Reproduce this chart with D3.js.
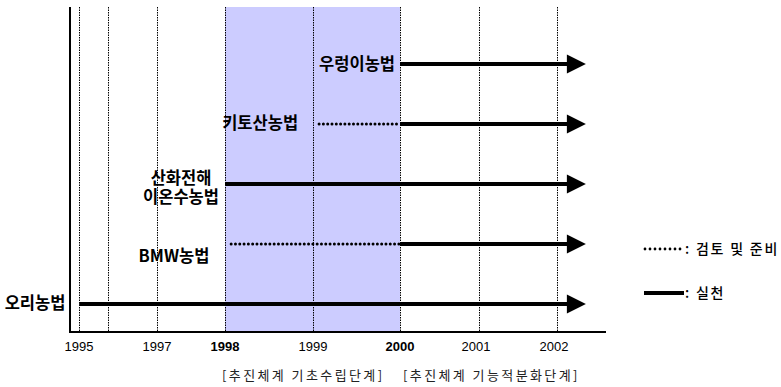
<!DOCTYPE html>
<html><head><meta charset="utf-8">
<script src="https://cdn.jsdelivr.net/npm/d3@7"></script>
<style>
body{margin:0;background:#fff;}
svg{display:block;}
text{font-family:"Noto Sans CJK KR","Noto Sans",sans-serif;}
.yr{font-family:"Liberation Sans",Arial,sans-serif;font-size:13px;}
</style></head><body>
<svg id="c" width="781" height="387"></svg>
<script>
// ---- data ----
const gridYears = [1995, 1996, 1997, 1998, 1999, 2000, 2001, 2002];
const tickLabels = ["1995", "1997", "1998", "1999", "2000", "2001", "2002"];
const tickYears = [1995, 1997, 1998, 1999, 2000, 2001, 2002];
const boldTicks = ["1998", "2000"];
const phases = ["[추진체계 기초수립단계]", "[추진체계 기능적분화단계]"];
const phaseStart = [1998, 2000];
const shadeRange = [1998, 2000];
const methods = ["우렁이농법", "키토산농법", "산화전해|이온수농법", "BMW농법", "오리농법"];
const reviewStart = [null, 1999.07, null, 1998.07, null];
const practiceStart = [2000, 2000, 1998, 2000, 1995.01];
const arrowEnd = 2002.37;
const legendLabels = [": 검토 및 준비", ": 실천"];

// ---- layout ----
const svg = d3.select("#c");
const x = d3.scaleLinear().domain(gridYears).range([79, 108, 157, 225, 313, 400, 479, 557]);
const y = d3.scalePoint().domain(methods).range([64, 304]);
const plotTop = 7, plotBottom = 332, axisLeft = 70, axisRight = 606;

// shade
svg.append("rect").attr("x", x(shadeRange[0])).attr("y", plotTop)
  .attr("width", x(shadeRange[1]) - x(shadeRange[0])).attr("height", plotBottom - plotTop)
  .attr("fill", "#ccccff");

// gridlines
svg.selectAll("line.grid").data(gridYears).join("line").attr("class", "grid")
  .attr("x1", d => x(d) + 0.5).attr("x2", d => x(d) + 0.5)
  .attr("y1", plotTop).attr("y2", plotBottom)
  .attr("stroke", "#000").attr("stroke-width", 1).attr("stroke-dasharray", "1.5,1");

// axes
svg.append("line").attr("x1", axisLeft).attr("x2", axisLeft).attr("y1", plotTop).attr("y2", plotBottom + 1)
  .attr("stroke", "#000").attr("stroke-width", 2);
svg.append("line").attr("x1", axisLeft - 1).attr("x2", axisRight).attr("y1", plotBottom).attr("y2", plotBottom)
  .attr("stroke", "#000").attr("stroke-width", 2);

// tick labels
svg.selectAll("text.yr").data(tickLabels).join("text").attr("class", "yr")
  .attr("x", (d, i) => x(tickYears[i]) - (tickYears[i] > 2000 ? 3 : 0)).attr("y", 351)
  .attr("text-anchor", "middle")
  .attr("font-weight", d => boldTicks.includes(d) ? "bold" : "normal")
  .text(d => d);

// phase labels
svg.selectAll("text.phase").data(phases).join("text").attr("class", "phase")
  .attr("x", (d, i) => x(phaseStart[i]) + (i === 0 ? -3 : 3))
  .attr("y", 380).attr("font-size", 13).attr("letter-spacing", "2.4px")
  .attr("text-anchor", "start")
  .attr("fill", "#222")
  .text(d => d);

// arrows
methods.forEach((m, i) => {
  const yy = y(m);
  if (reviewStart[i] != null) {
    svg.append("line").attr("x1", x(reviewStart[i])).attr("x2", x(practiceStart[i]))
      .attr("y1", yy).attr("y2", yy).attr("stroke", "#000").attr("stroke-width", 3)
      .attr("stroke-linecap", "round").attr("stroke-dasharray", "0,4.3");
  }
  const xe = x(arrowEnd);
  svg.append("line").attr("x1", x(practiceStart[i])).attr("x2", xe - 18)
    .attr("y1", yy).attr("y2", yy).attr("stroke", "#000").attr("stroke-width", 4);
  svg.append("path").attr("d", `M${xe - 19},${yy - 9.5}L${xe},${yy}L${xe - 19},${yy + 9.5}Z`).attr("fill", "#000");
});

// method labels
const lab = (txt, xx, yy, anchor) => svg.append("text").attr("x", xx).attr("y", yy)
  .attr("text-anchor", anchor).attr("font-size", 16.5).attr("font-weight", "bold")
  .attr("dominant-baseline", "central").text(txt);
lab(methods[0], x(2000) - 5, y(methods[0]) - 1, "end");
lab(methods[1], x(reviewStart[1]) - 21, y(methods[1]) - 2, "end");
const parts = methods[2].split("|");
lab(parts[0], x(1998) - 44, y(methods[2]) - 7, "middle");
lab(parts[1], x(1998) - 44, y(methods[2]) + 12, "middle");
lab(methods[3], x(1998) - 51, y(methods[3]) + 11, "middle");
lab(methods[4], 35, y(methods[4]) - 2, "middle");

// legend
svg.append("line").attr("x1", 645).attr("x2", 684).attr("y1", 249).attr("y2", 249)
  .attr("stroke", "#000").attr("stroke-width", 2.8).attr("stroke-linecap", "round").attr("stroke-dasharray", "0,5");
svg.append("line").attr("x1", 644).attr("x2", 684).attr("y1", 293).attr("y2", 293)
  .attr("stroke", "#000").attr("stroke-width", 4);
svg.selectAll("text.leg").data(legendLabels).join("text").attr("class", "leg")
  .attr("x", 685).attr("y", (d, i) => i === 0 ? 248 : 292)
  .attr("dominant-baseline", "central").attr("font-size", 14).attr("font-weight", 500)
  .attr("letter-spacing", "1.8px")
  .text(d => d);
</script></body></html>
